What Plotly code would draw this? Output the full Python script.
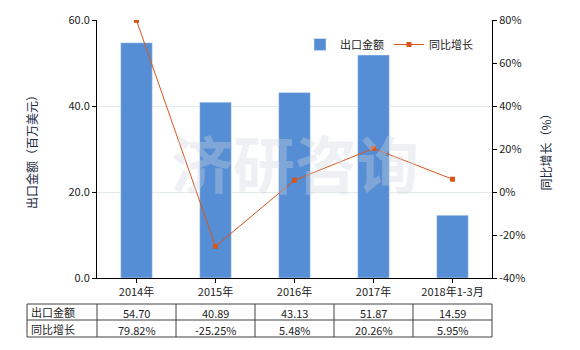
import plotly.graph_objects as go

categories = ["2014年", "2015年", "2016年", "2017年", "2018年1-3月"]
export_values = [54.70, 40.89, 43.13, 51.87, 14.59]
growth_values = [79.82, -25.25, 5.48, 20.26, 5.95]
export_labels = ["54.70", "40.89", "43.13", "51.87", "14.59"]
growth_labels = ["79.82%", "-25.25%", "5.48%", "20.26%", "5.95%"]
row_names = ["出口金额", "同比增长"]
left_ticks = [0, 20, 40, 60]
left_ticklabels = ["0.0", "20.0", "40.0", "60.0"]
right_ticks = [-40, -20, 0, 20, 40, 60, 80]
right_ticklabels = ["-40%", "-20%", "0%", "20%", "40%", "60%", "80%"]

W, H = 580, 350
L, R, T, B = 97, 492, 20, 278
FONT = "Noto Sans CJK SC, Noto Sans, sans-serif"

def px(x):
    return (x - L) / (R - L)

def py(y):
    return (B - y) / (B - T)

fig = go.Figure()
fig.add_trace(go.Bar(x=categories, y=export_values, name="出口金额",
                     marker_color="#558ED5", width=0.4, yaxis="y"))
fig.add_trace(go.Scatter(x=categories, y=growth_values, name="同比增长",
                         mode="lines+markers", yaxis="y2",
                         line=dict(color="#D9541A", width=1),
                         marker=dict(symbol="square", size=5, color="#D9541A")))

shapes = []
annotations = []
# watermark
annotations.append(dict(text="<b>济研咨询</b>", x=0.5, y=0.45, xref="paper", yref="paper",
                        showarrow=False, font=dict(size=62, color="rgba(205,212,222,0.35)", family=FONT)))
# table
tl, tr = 27, 492
rows_y = [304, 320, 337]
col_x = [27, 97, 176, 255, 334, 413, 492]
for yy in rows_y:
    shapes.append(dict(type="line", xref="paper", yref="paper", x0=px(tl), x1=px(tr),
                       y0=py(yy), y1=py(yy), line=dict(color="#404040", width=1)))
for xx in col_x:
    shapes.append(dict(type="line", xref="paper", yref="paper", x0=px(xx), x1=px(xx),
                       y0=py(rows_y[0]), y1=py(rows_y[2]), line=dict(color="#404040", width=1)))
row_vals = [export_labels, growth_labels]
for r in range(2):
    yc = (rows_y[r] + rows_y[r + 1]) / 2
    annotations.append(dict(text=row_names[r], x=px(29), y=py(yc), xref="paper", yref="paper",
                            xanchor="left", yanchor="middle", showarrow=False,
                            font=dict(size=11, color="#222", family=FONT)))
    for c in range(5):
        xc = (col_x[c + 1] + col_x[c + 2]) / 2
        annotations.append(dict(text=row_vals[r][c], x=px(xc), y=py(yc + 1), xref="paper", yref="paper",
                                xanchor="center", yanchor="middle", showarrow=False,
                                font=dict(size=11, color="#222", family=FONT)))

fig.update_layout(
    width=W, height=H,
    margin=dict(l=L, r=W - R, t=T, b=H - B),
    plot_bgcolor="white", paper_bgcolor="white",
    font=dict(family=FONT, size=11, color="#222"),
    bargap=0.6,
    xaxis=dict(showline=True, linecolor="black", linewidth=1, ticks="outside",
               ticklen=4, tickcolor="black", tickfont=dict(size=11, color="#222")),
    yaxis=dict(range=[0, 60], tickvals=left_ticks, ticktext=left_ticklabels,
               showline=True, linecolor="black", linewidth=1, ticks="outside", ticklen=4,
               tickcolor="black", showgrid=True, gridcolor="#E3EAEA", zeroline=False,
               title=dict(text="出口金额（百万美元）", font=dict(size=12, color="#1a2a40"), standoff=28),
               tickfont=dict(size=11, color="#222")),
    yaxis2=dict(range=[-40, 80], tickvals=right_ticks, ticktext=right_ticklabels,
                overlaying="y", side="right", showline=True, linecolor="black", linewidth=1,
                ticks="outside", ticklen=4, tickcolor="black", showgrid=False, zeroline=False,
                title=dict(text="同比增长（%）", font=dict(size=12, color="#1a2a40"), standoff=18),
                tickfont=dict(size=11, color="#222")),
    legend=dict(orientation="h", x=px(300), y=py(30), xanchor="left", yanchor="top",
                font=dict(size=11, color="#222"), bgcolor="rgba(0,0,0,0)", itemwidth=30),
    shapes=shapes, annotations=annotations,
)
fig.write_html("out.html")
